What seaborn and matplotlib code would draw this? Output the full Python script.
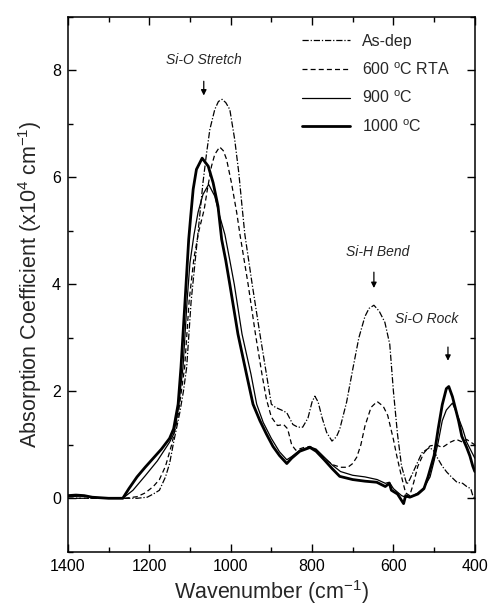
import numpy as np
import pandas as pd
import matplotlib
matplotlib.use("Agg")
import matplotlib.pyplot as plt
from matplotlib.ticker import MultipleLocator
import seaborn as sns

# ---------------- data ----------------
wn_asdep = [1400, 1300, 1230, 1205, 1190, 1175, 1160, 1150, 1140, 1125, 1116, 1108, 1097,
            1085, 1076, 1068, 1059, 1051, 1039, 1030, 1021, 1012, 1002, 990, 980, 972, 965,
            947, 928, 912, 900, 890, 875, 862, 847, 835, 823, 810, 800, 793, 785, 775, 764,
            751, 740, 732, 715, 700, 685, 670, 660, 648, 635, 621, 609, 600, 590, 580, 567,
            560, 545, 530, 511, 500, 493, 480, 469, 455, 444, 430, 420, 410, 405, 400]
ab_asdep = [0.00, 0.00, 0.00, 0.02, 0.08, 0.15, 0.40, 0.65, 1.05, 1.60, 2.00, 2.45, 3.69,
            4.60, 5.28, 5.90, 6.46, 6.90, 7.27, 7.42, 7.46, 7.40, 7.27, 6.71, 6.09, 5.46, 4.93,
            4.00, 3.07, 2.32, 1.76, 1.70, 1.65, 1.60, 1.38, 1.33, 1.33, 1.50, 1.80, 1.91, 1.80, 1.50, 1.23,
            1.07, 1.15, 1.29, 1.80, 2.41, 3.00, 3.40, 3.55, 3.61, 3.50, 3.29, 2.88, 2.00, 1.20, 0.60, 0.26,
            0.35, 0.60, 0.85, 0.95, 0.88, 0.77, 0.60, 0.49, 0.38, 0.30, 0.28, 0.22, 0.18, 0.05, 0.00]

wn_600 = [1400, 1300, 1260, 1230, 1210, 1190, 1175, 1160, 1145, 1130, 1122, 1113, 1102,
          1090, 1078, 1065, 1057, 1047, 1039, 1027, 1018, 1010, 998, 985, 977, 957, 939,
          923, 912, 900, 885, 870, 860, 850, 840, 820, 805, 790, 770, 750, 730, 712, 700,
          690, 680, 670, 655, 640, 625, 614, 600, 592, 580, 570, 560, 550, 540, 525, 510,
          495, 480, 470, 460, 445, 430, 420, 410, 400]
ab_600 = [0.00, 0.00, 0.00, 0.03, 0.10, 0.22, 0.35, 0.60, 1.00, 1.50, 1.95, 2.45, 3.69,
          4.50, 5.00, 5.40, 5.78, 6.21, 6.43, 6.57, 6.50, 6.34, 5.90, 5.34, 4.93, 4.00, 3.07,
          2.32, 1.85, 1.52, 1.36, 1.38, 1.30, 1.00, 0.90, 0.95, 0.97, 0.90, 0.75, 0.63, 0.58, 0.58, 0.65,
          0.77, 1.00, 1.35, 1.70, 1.81, 1.72, 1.55, 1.10, 0.80, 0.40, 0.10, 0.05, 0.30, 0.60, 0.85, 0.98,
          1.00, 0.95, 1.00, 1.05, 1.10, 1.05, 1.10, 1.05, 1.00]

wn_900 = [1400, 1370, 1340, 1300, 1265, 1240, 1210, 1180, 1150, 1140, 1130, 1117, 1107,
          1100, 1090, 1080, 1068, 1054, 1039, 1027, 1014, 1002, 991, 972, 950, 936, 920,
          900, 880, 862, 850, 830, 805, 790, 770, 750, 730, 700, 670, 640, 620, 610, 600,
          580, 570, 555, 540, 525, 510, 500, 490, 480, 470, 462, 455, 445, 430, 420, 410, 400]
ab_900 = [0.03, 0.04, 0.02, 0.00, 0.00, 0.15, 0.42, 0.70, 1.05, 1.20, 1.60, 2.45, 3.69,
          4.40, 4.93, 5.35, 5.68, 5.87, 5.65, 5.28, 4.93, 4.45, 4.00, 3.07, 2.32, 1.76, 1.42,
          1.12, 0.87, 0.72, 0.78, 0.90, 0.96, 0.92, 0.77, 0.62, 0.50, 0.43, 0.40, 0.35, 0.28, 0.30, 0.18,
          0.05, 0.02, 0.03, 0.10, 0.20, 0.40, 0.70, 1.05, 1.45, 1.65, 1.72, 1.78, 1.60, 1.30, 1.05, 0.90, 0.75]

wn_1000 = [1400, 1380, 1360, 1340, 1300, 1265, 1250, 1230, 1210, 1190, 1170, 1150, 1140,
           1129, 1122, 1112, 1103, 1098, 1092, 1084, 1070, 1055, 1043, 1031, 1022, 1012, 1002,
           982, 961, 945, 928, 912, 896, 880, 862, 850, 830, 805, 790, 770, 750, 732, 700,
           670, 641, 620, 610, 605, 590, 575, 570, 560, 540, 525, 515, 500, 490, 480, 470,
           464, 455, 440, 432, 420, 412, 405, 400]
ab_1000 = [0.05, 0.06, 0.05, 0.02, 0.00, 0.00, 0.18, 0.40, 0.58, 0.75, 0.92, 1.12, 1.30,
           1.76, 2.45, 3.69, 4.84, 5.28, 5.78, 6.15, 6.36, 6.21, 5.90, 5.46, 4.84, 4.45, 4.00,
           3.07, 2.32, 1.76, 1.45, 1.20, 0.97, 0.80, 0.65, 0.75, 0.88, 0.95, 0.88, 0.72, 0.55, 0.41, 0.35,
           0.32, 0.30, 0.22, 0.28, 0.15, 0.08, -0.10, 0.05, 0.02, 0.08, 0.18, 0.40, 0.80, 1.30, 1.75, 2.05,
           2.09, 1.90, 1.45, 1.16, 0.95, 0.79, 0.60, 0.50]

labels = ["As-dep", "600 $^{o}$C RTA", "900 $^{o}$C", "1000 $^{o}$C"]

# ---------------- figure ----------------
sns.set_style("ticks")
plt.rcParams["font.family"] = ["Liberation Sans", "DejaVu Sans"]
plt.rcParams["mathtext.default"] = "regular"

fig = plt.figure(figsize=(4.88, 6.07), dpi=100)
ax = fig.add_axes([0.139, 0.091, 0.834, 0.881])

series = [
    (wn_asdep, ab_asdep, labels[0], (0, (5, 1.5, 1, 1.5)), 0.9),
    (wn_600, ab_600, labels[1], (0, (4, 2.5)), 0.9),
    (wn_900, ab_900, labels[2], "-", 0.9),
    (wn_1000, ab_1000, labels[3], "-", 2.0),
]
for wn, ab, lab, ls, lw in series:
    df = pd.DataFrame({"wn": wn, "ab": ab})
    sns.lineplot(data=df, x="wn", y="ab", ax=ax, color="black", linestyle=ls,
                 linewidth=lw, label=lab, estimator=None, sort=False)

ax.set_xlim(1400, 400)
ax.set_ylim(-1, 9)
ax.xaxis.set_major_locator(MultipleLocator(200))
ax.xaxis.set_minor_locator(MultipleLocator(100))
ax.yaxis.set_major_locator(MultipleLocator(2))
ax.yaxis.set_minor_locator(MultipleLocator(1))
ax.tick_params(which="both", direction="in", top=True, right=True, labelsize=11.5,
               width=1.0, colors="black")
ax.tick_params(which="major", length=6, pad=5)
ax.tick_params(which="minor", length=3.5)
for s in ax.spines.values():
    s.set_linewidth(1.1)
    s.set_color("black")

ax.set_xlabel("Wavenumber (cm$^{-1}$)", fontsize=15.5, labelpad=3)
ax.set_ylabel("Absorption Coefficient (x10$^{4}$ cm$^{-1}$)", fontsize=15.5, labelpad=6)

leg = ax.legend(loc="upper right", frameon=False, fontsize=11.5, handlelength=3.0,
                labelspacing=0.75, handletextpad=0.8, bbox_to_anchor=(0.975, 0.995))

# annotations
ax.text(1066, 8.2, "Si-O Stretch", style="italic", fontsize=10, ha="center", va="center")
ax.annotate("", xy=(1066, 7.48), xytext=(1066, 7.85),
            arrowprops=dict(arrowstyle="-|>", color="black", lw=0.9, mutation_scale=8))
ax.text(638, 4.6, "Si-H Bend", style="italic", fontsize=10, ha="center", va="center")
ax.annotate("", xy=(648, 3.88), xytext=(648, 4.28),
            arrowprops=dict(arrowstyle="-|>", color="black", lw=0.9, mutation_scale=8))
ax.text(518, 3.35, "Si-O Rock", style="italic", fontsize=10, ha="center", va="center")
ax.annotate("", xy=(466, 2.52), xytext=(466, 2.88),
            arrowprops=dict(arrowstyle="-|>", color="black", lw=0.9, mutation_scale=8))

fig.savefig("out.png", dpi=100)
